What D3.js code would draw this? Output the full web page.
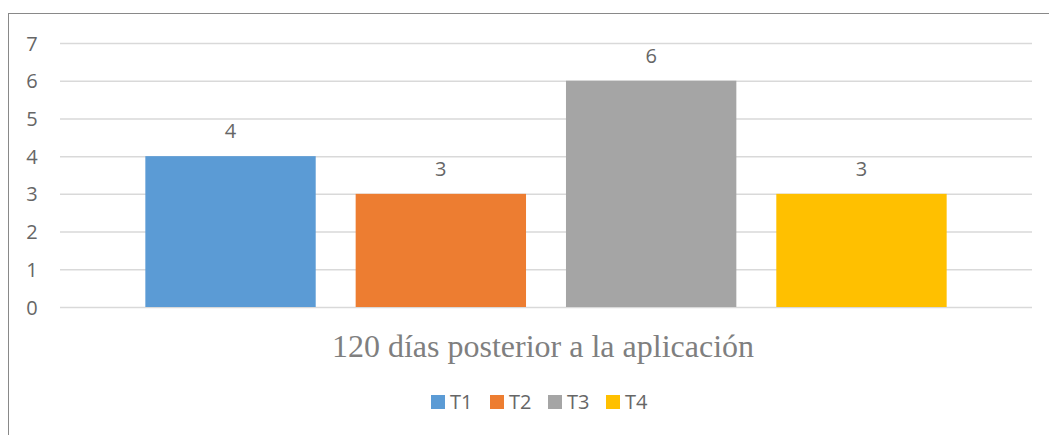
<!DOCTYPE html>
<html><head><meta charset="utf-8">
<script src="https://cdn.jsdelivr.net/npm/d3@7"></script>
<style>body{margin:0;background:#fff}</style>
</head><body>
<svg id="c" width="1049" height="435"></svg>
<script>
const categories = ["120 días posterior a la aplicación"];
const series = ["T1","T2","T3","T4"];
const values = [4,3,6,3];
const colors = ["#5B9BD5","#ED7D31","#A5A5A5","#FFC000"];
const yTicks = [0,1,2,3,4,5,6,7];

(function(){
const svg = d3.select("#c");
svg.append("rect").attr("x",8.5).attr("y",13.5).attr("width",1100).attr("height",500)
  .attr("fill","#fff").attr("stroke","#898989").attr("stroke-width",1);

const pl=60,pr=1032,pt=43,pb=307;
const font = "Open Sans, sans-serif";
const y = d3.scaleLinear().domain([0,7]).range([pb,pt]);
const x0 = d3.scaleBand().domain(categories).range([pl,pr]).paddingOuter(0.1065);
const x1 = d3.scaleBand().domain(series).range([0,x0.bandwidth()]).paddingInner(0.19).paddingOuter(0);

const yAxis = d3.axisLeft(y).tickValues(yTicks).tickSize(-(pr-pl)).tickFormat(d3.format("d"));
const ga = svg.append("g").attr("transform",`translate(${pl},0)`).call(yAxis);
ga.select(".domain").remove();
ga.selectAll(".tick line").attr("stroke","#d9d9d9").attr("stroke-width",1.5);
ga.selectAll(".tick text").attr("x",-28).attr("dy",null).attr("y",7).attr("fill","#666666")
  .style("font-family",font).style("font-size","20px").attr("text-anchor","middle");

const g = svg.append("g").attr("transform",`translate(${x0(categories[0])},0)`);
g.selectAll("rect.bar").data(values).join("rect").attr("class","bar")
  .attr("x",(d,i)=>x1(series[i])).attr("width",x1.bandwidth())
  .attr("y",d=>y(d)).attr("height",d=>y(0)-y(d)).attr("fill",(d,i)=>colors[i]);
g.selectAll("text.lbl").data(values).join("text").attr("class","lbl")
  .attr("x",(d,i)=>x1(series[i])+x1.bandwidth()/2).attr("y",d=>y(d)-18)
  .attr("text-anchor","middle").attr("fill","#666666")
  .style("font-family",font).style("font-size","20px").text(d=>d);

svg.append("text").attr("x",(pl+pr)/2 - 3).attr("y",357).attr("text-anchor","middle")
  .attr("fill","#7f7f7f").style("font-family","Liberation Serif, serif").style("font-size","32px")
  .text(categories[0]);

const legX = [431,490,548,606];
const lg = svg.append("g");
series.forEach((s,i)=>{
  lg.append("rect").attr("x",legX[i]).attr("y",395).attr("width",14).attr("height",14).attr("fill",colors[i]);
  lg.append("text").attr("x",legX[i]+19).attr("y",409).attr("fill","#666666")
    .style("font-family",font).style("font-size","20px").text(s);
});
})();
</script>
</body></html>
